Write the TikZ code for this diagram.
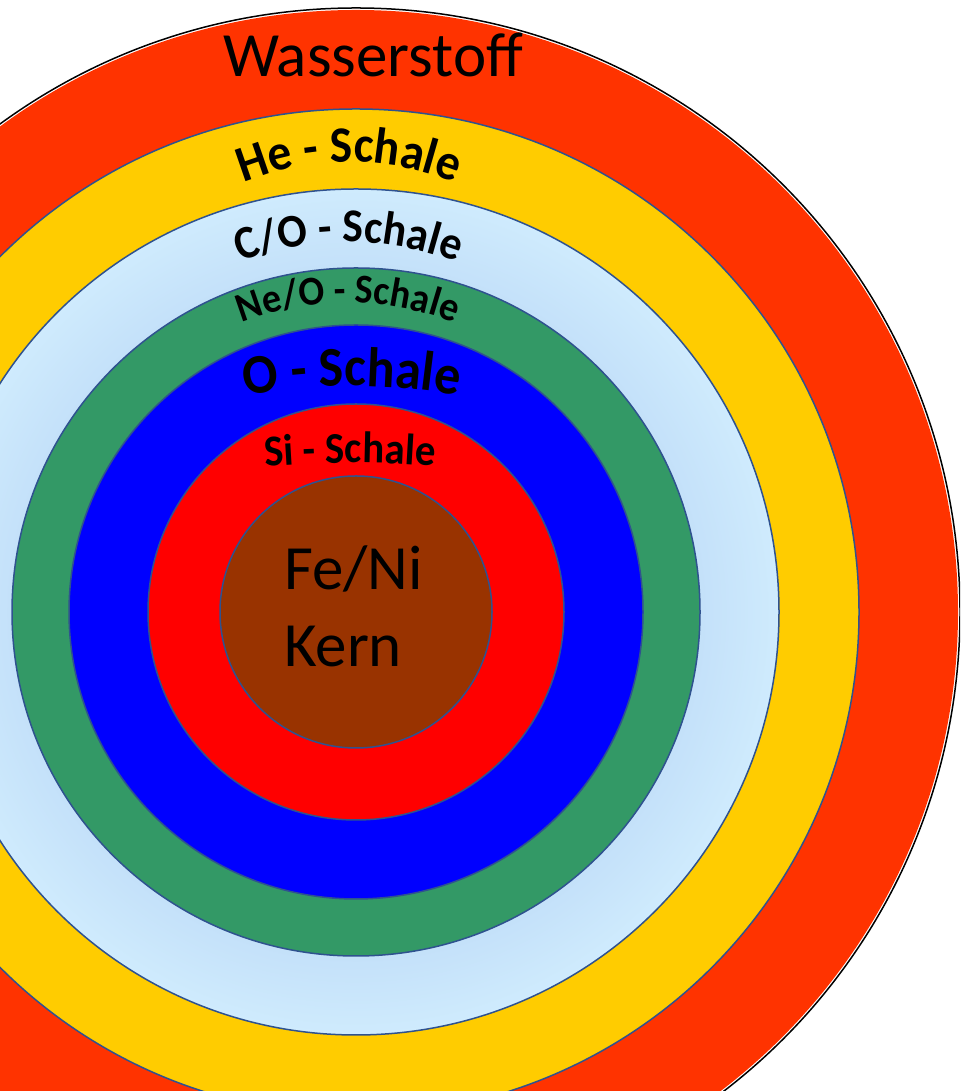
\documentclass[tikz,border=0pt]{standalone}
\usepackage{fontspec}
\setmainfont{Carlito}
\newfontfamily\archfont{Carlito}[FakeStretch=0.93]
\usetikzlibrary{decorations.text}
\definecolor{hyd}{HTML}{FF3300}
\definecolor{hel}{HTML}{FFCC00}
\definecolor{lbin}{HTML}{C3E0F9}
\definecolor{lbout}{HTML}{CFEBFD}
\definecolor{neo}{HTML}{339966}
\definecolor{oxy}{HTML}{0000FF}
\definecolor{sil}{HTML}{FF0000}
\definecolor{iron}{HTML}{993300}
\definecolor{rim}{HTML}{2F528F}
\pgfdeclareradialshading{lbshade}{\pgfpointorigin}{color(0bp)=(lbin); color(20bp)=(lbin); color(25bp)=(lbout); color(50bp)=(lbout)}
\begin{document}
\begin{tikzpicture}[x=1pt,y=1pt,
  shell/.style={draw=rim, line width=1.5pt},
  archtext/.style={decorate, decoration={text along path, text align=center}},
  plain/.style={inner sep=0pt, outer sep=0pt, text=black}]
\useasboundingbox (0,0) rectangle (960,1091);
\clip (0,0) rectangle (960,1091);
\coordinate (c) at (356,479);
% outer hydrogen envelope
\fill[white] (c) circle (605);
\draw[black, line width=1.5pt] (c) circle (604);
\fill[hyd] (c) circle (602);
% shells
\draw[shell, fill=hel] (c) circle (503);
\draw[shell, shading=lbshade] (c) circle (423);
\draw[shell, fill=neo] (c) circle (344);
\draw[shell, fill=oxy] (c) circle (287);
\draw[shell, fill=sil] (c) circle (208);
\draw[shell, fill=iron] (c) circle (136);
% labels
\node[plain, anchor=base, font=\fontsize{63}{63}\selectfont] (h) at (373,1014) {Wasserstoff};
\node[plain, anchor=base west, font=\fontsize{63}{63}\selectfont] (fe) at (284,501) {Fe/Ni};
\node[plain, anchor=base west, font=\fontsize{63}{63}\selectfont] (kern) at (284,424) {Kern};
% arched labels
\path[archtext, decoration={text={|\archfont\bfseries\fontsize{51}{51}\selectfont|He - Schale}}]
  (349,649) ++(125:280) arc (125:55:280);
\path[archtext, decoration={text={|\archfont\bfseries\fontsize{47}{47}\selectfont|C/O - Schale}}]
  (348.5,549) ++(125:300) arc (125:55:300);
\path[archtext, decoration={text={|\archfont\bfseries\fontsize{41}{41}\selectfont|Ne/O - Schale}}]
  (348,498) ++(125:290) arc (125:55:290);
\path[archtext, decoration={text={|\archfont\bfseries\fontsize{56}{56}\selectfont|O - Schale}}]
  (352,105) ++(105:600) arc (105:75:600);
\path[archtext, decoration={text={|\archfont\bfseries\fontsize{44}{44}\selectfont|Si - Schale}}]
  (350,-372) ++(97:1000) arc (97:83:1000);
\end{tikzpicture}
\end{document}
